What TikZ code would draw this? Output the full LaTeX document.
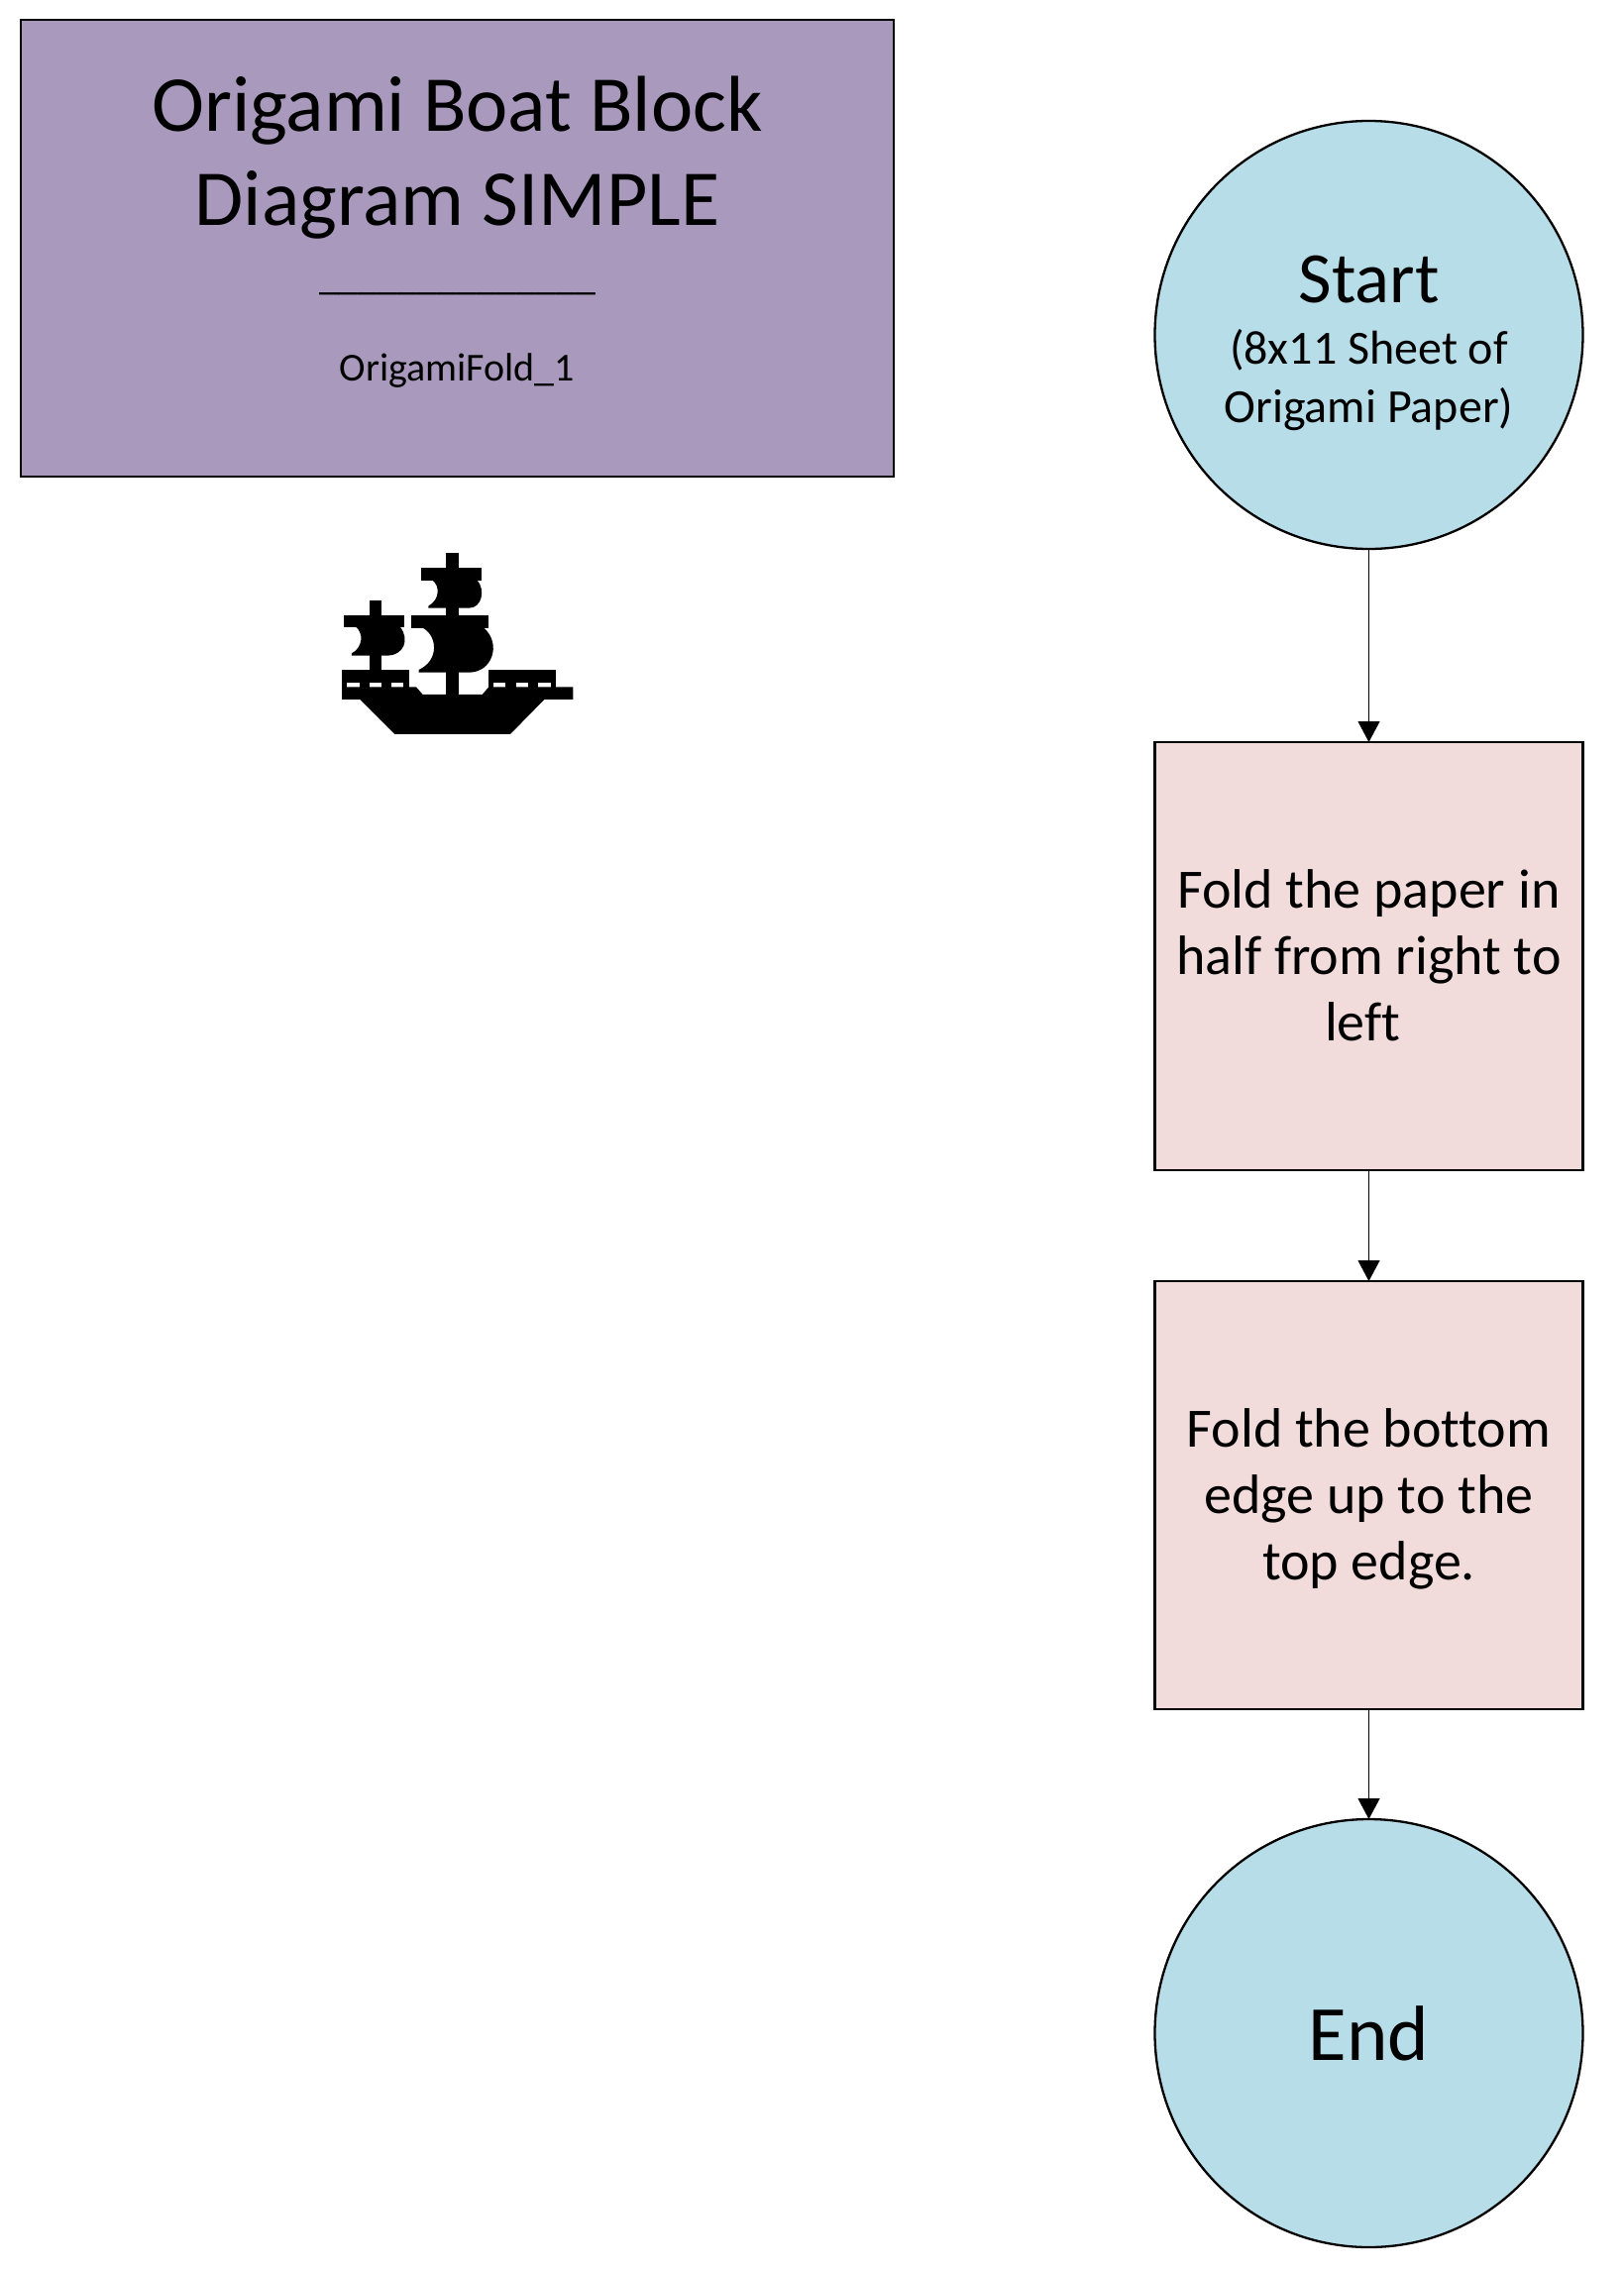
\documentclass[tikz,border=0pt]{standalone}
\usepackage{fontspec}
\setmainfont{Carlito}[Ligatures=NoCommon]
\usetikzlibrary{arrows.meta,positioning}
\definecolor{titlepurple}{HTML}{A899BD}
\definecolor{termblue}{HTML}{B7DDE8}
\definecolor{foldpink}{HTML}{F2DCDB}
\newcommand{\titlefont}{\fontsize{80}{95}\selectfont}
\newcommand{\smallfont}{\fontsize{40}{40}\selectfont}
\newcommand{\startfont}{\fontsize{73}{72}\selectfont}
\newcommand{\paperfont}{\fontsize{48}{58}\selectfont}
\begin{document}
\begin{tikzpicture}[
	x=1pt, y=-1pt,
	titlebox/.style={rectangle, draw, line width=2.3pt, fill=titlepurple, minimum width=881pt, minimum height=461pt, inner sep=0pt, outer sep=0pt, align=center},
	terminal/.style={circle, draw, line width=2.3pt, fill=termblue, minimum size=432pt, inner sep=0pt, outer sep=0pt, align=center},
	foldbox/.style={rectangle, draw, line width=2.3pt, fill=foldpink, minimum size=432pt, inner sep=0pt, outer sep=0pt, align=center, font=\fontsize{56}{67}\selectfont},
	link/.style={draw, line width=1pt, -{Triangle[length=21pt, width=22pt]}},
	shipicon/.style={fill=black}
	]
	\useasboundingbox (0,0) rectangle (1638,2291);

	% Title
	\node[titlebox] (title) at (461.5,250.5) {%
		\titlefont Origami Boat Block\\[25pt]\titlefont Diagram SIMPLE\\[50pt]
		\smallfont \_\_\_\_\_\_\_\_\_\_\_\_\_\_\\[58pt]
		\smallfont OrigamiFold\_1\\[27pt]\mbox{}};

	% The flow
	\node[terminal] (start) at (1381.5,338) {%
		\rule{0pt}{64pt}\startfont Start\\[25pt]
		\paperfont (8x11 Sheet of\\[16pt]\paperfont Origami Paper)};
	\node[foldbox] (fold1) at (1381.5,965) {\rule{0pt}{58pt}Fold the paper in\\half from right to\\\mbox{left\ }\strut};
	\node[foldbox] (fold2) at (1381.5,1509) {\rule{0pt}{58pt}Fold the bottom\\edge up to the\\top edge.\strut};
	\node[terminal, font=\fontsize{79}{90}\selectfont] (end) at (1381.5,2052) {\rule{0pt}{56pt}End};

	% Arrows
	\draw[link] (start) to (fold1);
	\draw[link] (fold1) to (fold2);
	\draw[link] (fold2) to (end);

	% The ship
	\begin{scope}[shift={(310,520)}, x=0.3333pt, y=-0.3333pt]
		% hull
		\fill[shipicon] (105,520) -- (330,520) -- (350,543) -- (530,543) -- (550,520) -- (805,520) -- (805,558) -- (718,558) -- (615,663) -- (265,663) -- (160,558) -- (105,558) -- cycle;
		% castles
		\fill[shipicon] (105,467) rectangle (308,507);
		\fill[shipicon] (550,467) rectangle (752,507);
		\foreach \xa/\xb in {105/120, 158/188, 225/255, 292/308, 550/563, 600/632, 670/700, 737/752}
			\fill[shipicon] (\xa,506) rectangle (\xb,521);
		% masts
		\fill[shipicon] (421,115) rectangle (459,545);
		\fill[shipicon] (188,257) rectangle (226,468);
		% yards
		\fill[shipicon] (345,160) rectangle (527,198);
		\fill[shipicon] (315,302) rectangle (550,342);
		\fill[shipicon] (112,302) rectangle (295,340);
		% sails
		\fill[shipicon] (380,197) .. controls (402,215) and (402,255) .. (367,275) -- (367,281) -- (490,281) .. controls (530,281) and (540,225) .. (515,197) -- cycle;
		\fill[shipicon] (350,341) .. controls (395,365) and (400,440) .. (338,468) -- (338,476) -- (490,476) .. controls (560,476) and (590,390) .. (535,341) -- cycle;
		\fill[shipicon] (148,339) .. controls (170,355) and (170,400) .. (135,418) -- (135,425) -- (240,425) .. controls (295,425) and (310,375) .. (282,339) -- cycle;
	\end{scope}
\end{tikzpicture}
\end{document}
